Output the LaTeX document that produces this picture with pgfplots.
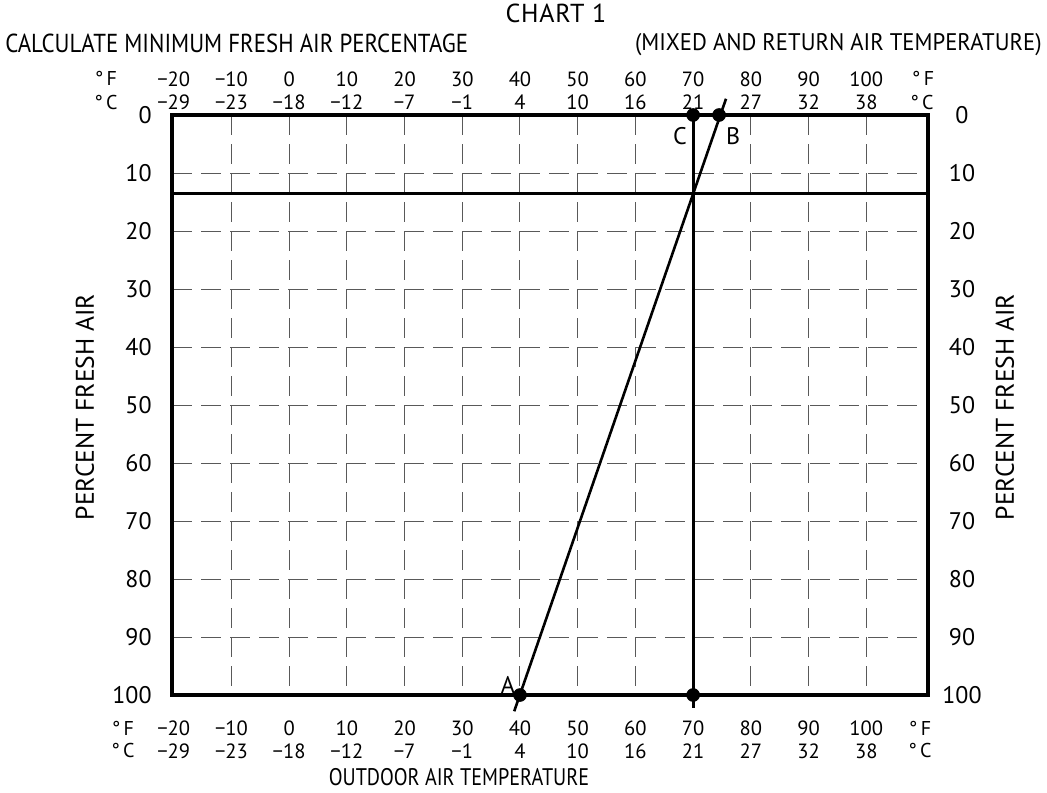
\documentclass[border=0pt]{standalone}
\usepackage{pgfplots}
\pgfplotsset{compat=1.18}
\usepackage{graphicx}
\usepackage{fontspec}
\setmainfont{PT Sans}
\newcommand{\fs}[1]{\fontsize{#1}{#1}\selectfont}
\begin{document}
\begin{tikzpicture}
\begin{axis}[
  name=main,
  at={(0,0)}, anchor=south west,
  width=378pt, height=290pt, scale only axis,
  xmin=-20.3, xmax=110.7, ymin=0, ymax=100, y dir=reverse,
  axis line style={line width=2pt},
  xtick={-20,-10,...,100}, ytick={0,10,...,100},
  major tick length=0pt,
  grid=major,
  grid style={black!65, line width=0.5pt, dash pattern=on 10pt off 4.5pt},
  xticklabels={{−20\\−29},{−10\\−23},{0\\−18},{10\\−12},{20\\−7},{30\\−1},{40\\4},{50\\10},{60\\16},{70\\21},{80\\27},{90\\32},{100\\38}},
  yticklabels={0,10,20,30,40,50,60,70,80,90,100},
  xticklabel style={align=center, font=\fontsize{10.3}{11.5}\selectfont, anchor=north, inner sep=0pt, yshift=-12.5pt},
  yticklabel style={font=\fs{12}, anchor=east, inner sep=0pt, xshift=-10pt},
  clip=false,
]
\addplot[black, line width=1.3pt] coordinates {(-20.3,13.5) (110.7,13.5)};
\addplot[black, line width=1.5pt] coordinates {(70,0) (70,102.2)};
\addplot[black, line width=1.3pt] coordinates {(39,102.8) (75.7,-2.8)};
\addplot[only marks, mark=*, mark size=3.2pt, black] coordinates {(70,0) (74.5,0) (40,100) (70,100)};
\end{axis}
\begin{axis}[
  at={(0,0)}, anchor=south west,
  width=378pt, height=290pt, scale only axis,
  xmin=-20.3, xmax=110.7, ymin=0, ymax=100, y dir=reverse,
  axis line style={draw=none},
  xtick={-20,-10,...,100}, ytick={0,10,...,100},
  major tick length=0pt,
  xticklabel pos=upper, yticklabel pos=right,
  xticklabels={{−20\\−29},{−10\\−23},{0\\−18},{10\\−12},{20\\−7},{30\\−1},{40\\4},{50\\10},{60\\16},{70\\21},{80\\27},{90\\32},{100\\38}},
  yticklabels={0,10,20,30,40,50,60,70,80,90,100},
  xticklabel style={align=center, font=\fontsize{10.3}{11.5}\selectfont, anchor=south, inner sep=0pt, yshift=2.5pt},
  yticklabel style={font=\fs{12}, anchor=center, inner sep=0pt, xshift=17pt},
]
\addplot[draw=none] coordinates {(0,0)};
\end{axis}
\def\P(#1,#2){([shift={(#1pt,#2pt)}]main.south west)}
\node[font=\fs{13}, inner sep=0pt] at \P(192,341) {\addfontfeature{LetterSpace=3}CHART 1};
\node[font=\fs{13}, inner sep=0pt, anchor=west] at \P(-83.5,326) {\scalebox{0.88}[1]{CALCULATE MINIMUM FRESH AIR PERCENTAGE}};
\node[font=\fs{12}, inner sep=0pt, anchor=east] at \P(435,325) {\scalebox{0.946}[1]{(MIXED AND RETURN AIR TEMPERATURE)}};
\node[font=\fs{12}, inner sep=0pt] at \P(143.5,-41) {\scalebox{0.84}[1]{OUTDOOR AIR TEMPERATURE}};
\node[font=\fs{12.8}, inner sep=0pt, rotate=90] at \P(-43.5,144) {PERCENT FRESH AIR};
\node[font=\fs{12.8}, inner sep=0pt, rotate=90] at \P(416.5,144) {PERCENT FRESH AIR};
\node[font=\fs{10}, inner sep=0pt] at \P(-33,308.5) {°\,F};
\node[font=\fs{10}, inner sep=0pt] at \P(-33,296) {°\,C};
\node[font=\fs{10}, inner sep=0pt] at \P(375.5,308.5) {°\,F};
\node[font=\fs{10}, inner sep=0pt] at \P(375,296) {°\,C};
\node[font=\fs{10}, inner sep=0pt] at \P(-24.5,-16.5) {°\,F};
\node[font=\fs{10}, inner sep=0pt] at \P(-24.5,-27.5) {°\,C};
\node[font=\fs{10}, inner sep=0pt] at \P(374,-16.5) {°\,F};
\node[font=\fs{10}, inner sep=0pt] at \P(374,-27.5) {°\,C};
\node[font=\fs{12}, inner sep=0pt] at \P(254,279.5) {C};
\node[font=\fs{12}, inner sep=0pt] at \P(280.5,279.5) {B};
\node[font=\fs{12}, inner sep=0pt] at \P(168,5) {A};
\pgfresetboundingbox
\path ([shift={(-86pt,-48.5pt)}]main.south west) rectangle ([shift={(59.5pt,57.5pt)}]main.north east);
\end{tikzpicture}
\end{document}
